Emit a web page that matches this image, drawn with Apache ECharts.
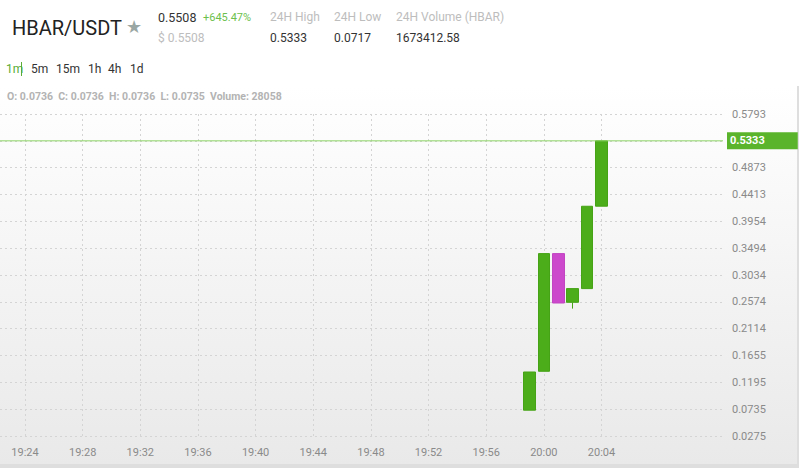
<!DOCTYPE html>
<html><head><meta charset="utf-8">
<script src="https://cdn.jsdelivr.net/npm/echarts@6/dist/echarts.min.js"></script>
<style>html,body{margin:0;padding:0;background:#fff;overflow:hidden}#c{width:799px;height:468px}</style>
</head><body><div id="c"></div>
<script>
// ---- data ----
const times = ['19:24','19:25','19:26','19:27','19:28','19:29','19:30','19:31','19:32','19:33',
  '19:34','19:35','19:36','19:37','19:38','19:39','19:40','19:41','19:42','19:43',
  '19:44','19:45','19:46','19:47','19:48','19:49','19:50','19:51','19:52','19:53',
  '19:54','19:55','19:56','19:57','19:58','19:59','20:00','20:01','20:02','20:03','20:04'];
const candleTimes = ['19:59','20:00','20:01','20:02','20:03','20:04'];
const opens  = [0.0717, 0.1384, 0.3401, 0.2566, 0.2801, 0.4213];
const closes = [0.1372, 0.3401, 0.2554, 0.2801, 0.4212, 0.5333];
const lows   = [0.0717, 0.1384, 0.2554, 0.2458, 0.2801, 0.4213];
const highs  = [0.1372, 0.3401, 0.3401, 0.2801, 0.4212, 0.5333];
const yTickLabels = ['0.0275','0.0735','0.1195','0.1655','0.2114','0.2574','0.3034',
  '0.3494','0.3954','0.4413','0.4873','0.5333','0.5793'];
const yMin = 0.0275, yMax = 0.5793;
const lastPrice = 0.5333;
const lastPriceLabel = '0.5333';

// ---- build ----
const yInterval = (yMax - yMin) / (yTickLabels.length - 1);
const candleData = times.map(function (t) {
  const i = candleTimes.indexOf(t);
  return i < 0 ? '-' : [opens[i], closes[i], lows[i], highs[i]];
});

const GREEN = '#4cad1a', PINK = '#cc48cc';
const FONT = 'Roboto, "Noto Sans", sans-serif';
const chart = echarts.init(document.getElementById('c'), null, {renderer: 'svg'});

function txt(x, y, s, size, color, weight) {
  return {type: 'text', x: x, y: y, z: 10,
    style: {text: s, font: (weight || 'normal') + ' ' + size + 'px ' + FONT,
      fill: color, verticalAlign: 'middle', align: 'left'}};
}

chart.setOption({
  animation: false,
  backgroundColor: '#ffffff',
  graphic: {elements: [
    {type: 'rect', shape: {x: 0, y: 86, width: 797, height: 378}, z: -10,
      style: {fill: new echarts.graphic.LinearGradient(0, 0, 0, 1, [
        {offset: 0, color: '#ffffff'}, {offset: 1, color: '#e9e9e9'}])}},
    {type: 'rect', shape: {x: 797, y: 86, width: 2, height: 382}, z: -10, style: {fill: '#dedede'}},
    {type: 'rect', shape: {x: 0, y: 464, width: 799, height: 4}, z: -10, style: {fill: '#dedede'}},
    txt(12, 28, 'HBAR/USDT', 20, '#222'),
    txt(126, 26, '★', 18, '#9aa7a4'),
    txt(158, 17, '0.5508', 12.5, '#333'),
    txt(203, 17, '+645.47%', 11, '#6cbf4c'),
    txt(158, 38, '$ 0.5508', 12, '#bdbdbd'),
    txt(270, 17, '24H High', 12, '#bdbdbd'),
    txt(270, 38, '0.5333', 12, '#333'),
    txt(334, 17, '24H Low', 12, '#bdbdbd'),
    txt(334, 38, '0.0717', 12, '#333'),
    txt(396, 17, '24H Volume (HBAR)', 12, '#bdbdbd'),
    txt(396, 38, '1673412.58', 12, '#333'),
    txt(6, 69, '1m', 12, '#5aac36'),
    {type: 'rect', shape: {x: 21, y: 62, width: 1, height: 14}, z: 10, style: {fill: '#5aac36'}},
    txt(31, 69, '5m', 12, '#333'),
    txt(56, 69, '15m', 12, '#333'),
    txt(88, 69, '1h', 12, '#333'),
    txt(108, 69, '4h', 12, '#333'),
    txt(130, 69, '1d', 12, '#333'),
    txt(7, 96, 'O: 0.0736  C: 0.0736  H: 0.0736  L: 0.0735  Volume: 28058', 10.5, '#b3b3b3', 'bold')
  ]},
  grid: [
    {left: 0, right: 76, top: 114, bottom: 32},
    {left: 25, right: 197.5, top: 114, bottom: 32}
  ],
  xAxis: [
    {type: 'value', gridIndex: 0, min: 0, max: 1, show: false},
    {type: 'category', gridIndex: 1, data: times, boundaryGap: false,
      axisLine: {show: false}, axisTick: {show: false},
      axisLabel: {interval: 3, color: '#8a8a8a', fontSize: 11, fontFamily: FONT, margin: 11},
      splitLine: {show: true, interval: 3, lineStyle: {color: '#d4d4d4', type: [2, 3], width: 1}}}
  ],
  yAxis: [
    {type: 'value', gridIndex: 0, position: 'right', min: yMin, max: yMax, interval: yInterval,
      axisLine: {show: false}, axisTick: {show: false},
      axisLabel: {margin: 9, color: '#8a8a8a', fontSize: 11, fontFamily: FONT,
        formatter: function (v) {
          const s = yTickLabels[Math.round((v - yMin) / yInterval)] || '';
          return s === lastPriceLabel ? '' : s;   // covered by the last-price tag
        }},
      splitLine: {show: true, lineStyle: {color: '#d4d4d4', type: [2, 3], width: 1}}},
    {type: 'value', gridIndex: 1, min: yMin, max: yMax, interval: yInterval, show: false,
      splitLine: {show: false}}
  ],
  series: [
    {type: 'line', xAxisIndex: 0, yAxisIndex: 0, z: 5, silent: true,
      data: [[0, lastPrice], [1, lastPrice]], symbol: 'none', showSymbol: false,
      lineStyle: {color: '#8ed468', width: 1, type: 'solid'},
      endLabel: {show: true, distance: 4, formatter: lastPriceLabel,
        color: '#fff', backgroundColor: '#5ab42b', fontSize: 11, fontFamily: FONT,
        fontWeight: 'bold', padding: [3, 33, 3, 3]}},
    {type: 'candlestick', xAxisIndex: 1, yAxisIndex: 1, data: candleData, barWidth: 12, clip: false,
      itemStyle: {color: GREEN, color0: PINK, borderColor: '#46a316', borderColor0: '#c244c2', borderWidth: 1}}
  ]
});
</script></body></html>
